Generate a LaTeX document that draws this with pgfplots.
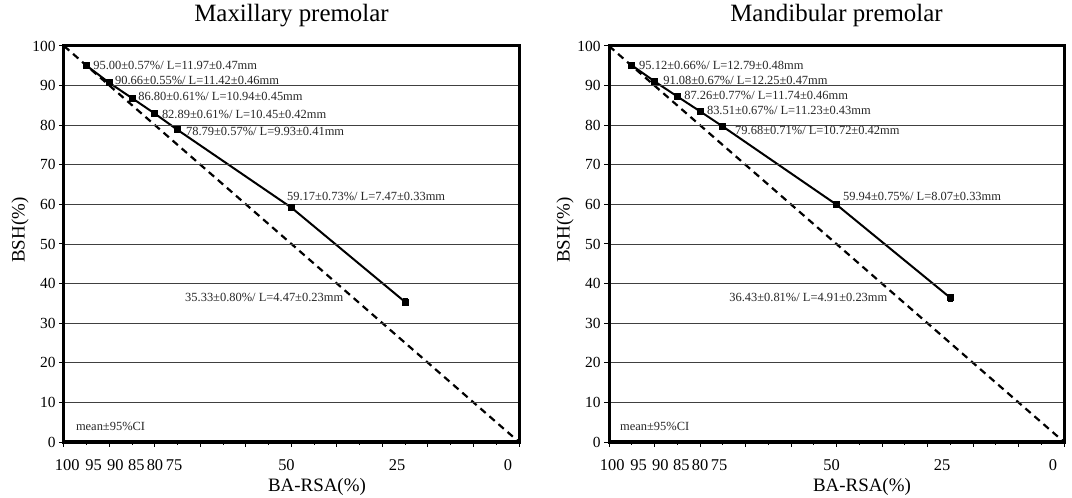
\documentclass[border=0pt]{standalone}
\usepackage{fontspec}
\setmainfont{Liberation Serif}
\usepackage{pgfplots}
\usepackage{pgfplotstable}
\pgfplotsset{compat=1.18}

\pgfplotstableread{
x y e
95 95.00 0.57
90 90.66 0.55
85 86.80 0.61
80 82.89 0.61
75 78.79 0.57
50 59.17 0.73
25 35.33 0.80
}\maxdata

\pgfplotstableread{
x y e
95 95.12 0.66
90 91.08 0.67
85 87.26 0.77
80 83.51 0.67
75 79.68 0.71
50 59.94 0.75
25 36.43 0.81
}\mandata

\tikzset{ann/.style={anchor=west, inner sep=0pt, text=black!85, font=\fontsize{12.5}{12.5}\selectfont}}

\pgfplotsset{
  premstyle/.style={
    scale only axis, width=455bp, height=396bp,
    x dir=reverse, xmin=0, xmax=100, ymin=0, ymax=100,
    xtick={0,10,...,100}, xticklabels={}, minor x tick num=1,
    ytick={0,10,...,100},
    tick align=outside, tick pos=left,
    major tick length=5bp, minor tick length=3bp,
    tick style={black, line width=1bp},
    ymajorgrids, grid style={black!75, line width=0.9bp},
    axis line style={line width=3bp},
    axis on top,
    /pgf/number format/assume math mode=true,
    yticklabel style={font=\fontsize{15.5}{15.5}\selectfont},
    extra x ticks={99.3,93.5,88.7,84.1,80,75.8,51.1,26.8,2.4},
    extra x tick labels={100,95,90,85,80,75,50,25,0},
    extra x tick style={major tick length=0pt, grid=none,
      xticklabel style={font=\fontsize{16.5}{16.5}\selectfont, anchor=center, inner sep=0pt, yshift=-23bp}},
    title style={at={(axis description cs:0.5,1)}, anchor=base, yshift=19bp, font=\fontsize{25}{25}\selectfont},
    xlabel={BA-RSA(\%)}, ylabel={BSH(\%)},
    xlabel style={at={(axis description cs:0.556,0)}, anchor=base, yshift=-49bp, font=\fontsize{19}{19}\selectfont},
    ylabel style={at={(axis description cs:-0.0967,0.535)}, anchor=center, font=\fontsize{19}{19}\selectfont},
  },
  diagline/.style={black, line width=2.2bp, dash pattern=on 7bp off 5bp},
  dataline/.style={black, line width=2bp, mark=square*, mark size=2.5bp, mark options={solid},
    error bars/.cd, y dir=both, y explicit,
    error bar style={line width=1.2bp, solid},
    error mark options={rotate=90, mark size=2.5bp, line width=1.4bp}},
}

\begin{document}
\begin{tikzpicture}
\useasboundingbox (0,0) rectangle (1072bp,498bp);

\begin{axis}[premstyle, at={(64bp,56bp)}, anchor=south west, title={Maxillary premolar}]
\addplot[diagline] coordinates {(100,100) (0,0)};
\addplot[dataline] table[x=x, y=y, y error=e] {\maxdata};
\node[ann] at (axis cs:93.6,95.2) {95.00±0.57\%/ L=11.97±0.47mm};
\node[ann] at (axis cs:88.8,91.4) {90.66±0.55\%/ L=11.42±0.46mm};
\node[ann] at (axis cs:83.7,87.2) {86.80±0.61\%/ L=10.94±0.45mm};
\node[ann] at (axis cs:78.5,82.8) {82.89±0.61\%/ L=10.45±0.42mm};
\node[ann] at (axis cs:73.2,78.4) {78.79±0.57\%/ L=9.93±0.41mm};
\node[ann] at (axis cs:51.0,61.9) {59.17±0.73\%/ L=7.47±0.33mm};
\node[ann] at (axis cs:73.4,36.4) {35.33±0.80\%/ L=4.47±0.23mm};
\node[ann] at (axis cs:97.4,4.0) {mean±95\%CI};
\end{axis}

\begin{axis}[premstyle, at={(609bp,56bp)}, anchor=south west, title={Mandibular premolar}]
\addplot[diagline] coordinates {(100,100) (0,0)};
\addplot[dataline] table[x=x, y=y, y error=e] {\mandata};
\node[ann] at (axis cs:93.4,95.2) {95.12±0.66\%/ L=12.79±0.48mm};
\node[ann] at (axis cs:88.1,91.2) {91.08±0.67\%/ L=12.25±0.47mm};
\node[ann] at (axis cs:83.5,87.4) {87.26±0.77\%/ L=11.74±0.46mm};
\node[ann] at (axis cs:78.5,83.8) {83.51±0.67\%/ L=11.23±0.43mm};
\node[ann] at (axis cs:72.3,78.6) {79.68±0.71\%/ L=10.72±0.42mm};
\node[ann] at (axis cs:48.6,61.9) {59.94±0.75\%/ L=8.07±0.33mm};
\node[ann] at (axis cs:73.6,36.6) {36.43±0.81\%/ L=4.91±0.23mm};
\node[ann] at (axis cs:97.6,4.0) {mean±95\%CI};
\end{axis}
\end{tikzpicture}
\end{document}
